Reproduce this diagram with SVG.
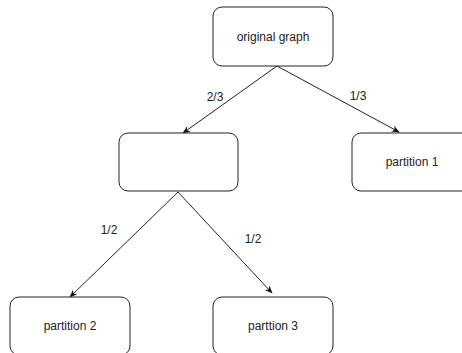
<svg xmlns="http://www.w3.org/2000/svg" width="462" height="353" viewBox="0 0 462 353">
<style>
.box{fill:#fff;stroke:#222;stroke-width:1}
.t{font-family:"Liberation Sans",Arial,sans-serif;font-size:12px;fill:#222;text-anchor:middle}
.e{stroke:#222;stroke-width:1;fill:none;marker-end:url(#ah)}
</style>
<defs>
<marker id="ah" viewBox="0 0 10 10" refX="9" refY="5" markerWidth="8" markerHeight="8" orient="auto" markerUnits="userSpaceOnUse">
<path d="M0,1 L10,5 L0,9 L3,5 z" fill="#111"/>
</marker>
</defs>
<rect width="462" height="353" fill="#fff"/>
<g id="connectors">
<line class="e" x1="277" y1="66" x2="183" y2="133"/>
<line class="e" x1="277" y1="66" x2="399" y2="132"/>
<line class="e" x1="178" y1="192" x2="70" y2="297"/>
<line class="e" x1="178" y1="192" x2="272" y2="293"/>
<text class="t" x="215" y="101">2/3</text>
<text class="t" x="358" y="100">1/3</text>
<text class="t" x="109" y="234">1/2</text>
<text class="t" x="253" y="243">1/2</text>
</g>
<g id="original"><rect class="box" x="213" y="7" width="120" height="59" rx="9"/><text class="t" x="273" y="41">original graph</text></g>
<g id="middle"><rect class="box" x="119" y="133" width="119" height="58" rx="9"/></g>
<g id="p1"><rect class="box" x="352" y="133" width="120" height="58" rx="9"/><text class="t" x="412" y="166">partition 1</text></g>
<g id="p2"><rect class="box" x="10" y="297" width="120" height="58" rx="9"/><text class="t" x="70" y="330">partition 2</text></g>
<g id="p3"><rect class="box" x="213" y="297" width="120" height="58" rx="9"/><text class="t" x="273" y="330">parttion 3</text></g>
</svg>
